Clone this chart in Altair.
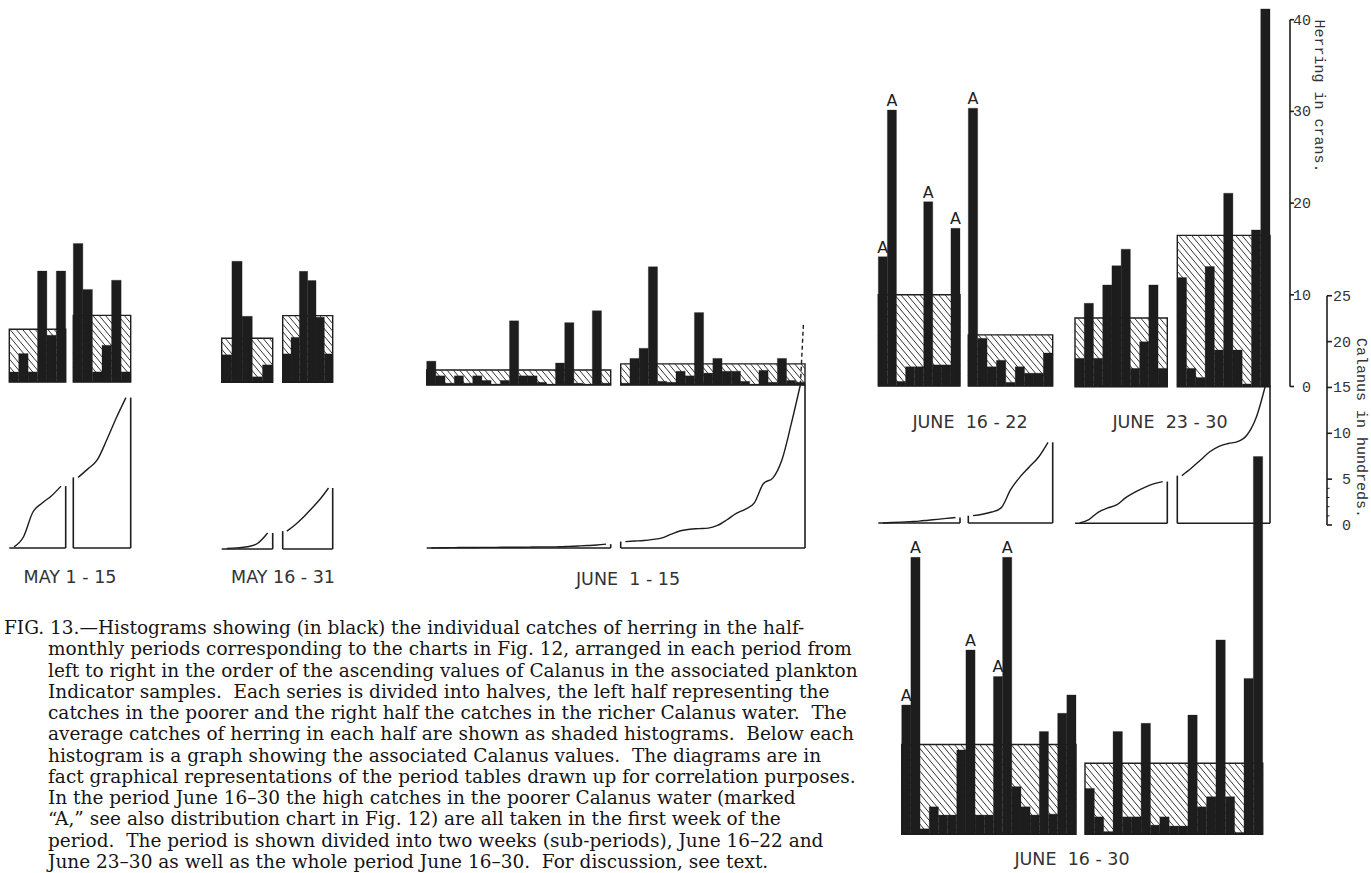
import altair as alt
import pandas as pd

W, H = 1371, 873
PX = 9.17  # pixels per cran of herring (and per hundred Calanus)

# ---------------- data ----------------
# herring catches (crans) in poorer / richer Calanus water, ordered by ascending Calanus
may1_poor = [1.1, 3.1, 1.1, 12.1, 5.1, 12.1]
may1_rich = [15.1, 10.1, 1.1, 4.0, 11.1, 1.1]
may1_avg = [5.75, 7.27]
may1_cal_poor = [0.12, 1.2, 3.9, 4.9, 5.7, 6.75]
may1_cal_rich = [7.7, 8.6, 9.6, 11.8, 14.2, 16.4]

may16_poor = [3.0, 13.2, 7.2, 0.6, 1.9]
may16_rich = [3.1, 4.9, 12.1, 11.1, 7.1, 3.1]
may16_avg = [4.8, 7.27]
may16_cal_poor = [0.06, 0.12, 0.24, 0.6, 1.75]
may16_cal_rich = [1.95, 2.65, 3.5, 4.45, 5.45, 6.65]

jun1_poor = [2.6, 1.0, 0.2, 1.0, 0.2, 1.0, 0.5, 0.1, 0.5, 7.0,
             1.0, 1.0, 0.3, 0.1, 2.4, 6.8, 0.2, 0.1, 8.1, 0.2]
jun1_rich = [0.2, 2.9, 4.0, 12.9, 0.4, 0.3, 1.5, 1.0, 7.9, 1.3,
             2.9, 1.5, 1.5, 0.4, 0.1, 1.6, 0.3, 2.9, 0.5, 0.3]
jun1_avg = [1.64, 2.3]
jun1_cal_poor = [0.0, 0.02, 0.04, 0.05, 0.06, 0.06, 0.07, 0.07, 0.08, 0.09,
                 0.09, 0.11, 0.12, 0.12, 0.14, 0.18, 0.22, 0.27, 0.33, 0.42]
jun1_cal_rich = [0.7, 0.76, 0.82, 0.94, 1.11, 1.52, 1.88, 2.05, 2.11, 2.17,
                 2.46, 3.05, 3.75, 4.22, 4.93, 7.04, 7.62, 9.62, 13.5, 17.8]

jun16_poor = [14.1, 30.1, 0.5, 2.1, 2.1, 20.1, 2.3, 2.3, 17.2]
jun16_rich = [30.3, 5.2, 2.1, 2.8, 0.4, 2.1, 1.4, 1.4, 3.6]
jun16_avg = [9.95, 5.57]
jun16_cal_poor = [0.0, 0.05, 0.1, 0.15, 0.2, 0.3, 0.4, 0.5, 0.6]
jun16_cal_rich = [0.8, 0.95, 1.2, 1.65, 3.6, 5.0, 6.1, 7.2, 8.8]

jun23_poor = [3.1, 9.1, 3.1, 11.1, 13.2, 15.0, 2.0, 4.9, 11.1, 2.0]
jun23_rich = [11.9, 2.0, 1.0, 13.1, 4.0, 21.1, 4.0, 0.3, 17.1, 41.2]
jun23_avg = [7.5, 16.5]
jun23_cal_poor = [0.05, 0.4, 1.2, 1.65, 2.0, 2.8, 3.4, 3.9, 4.3, 4.55]
jun23_cal_rich = [5.2, 6.0, 6.9, 7.8, 8.4, 8.7, 8.9, 9.6, 11.5, 15.0]

jun1630_poor = [14.1, 30.2, 0.6, 3.0, 2.1, 2.1, 9.2, 20.1, 2.1, 2.1,
                17.2, 30.2, 5.2, 3.0, 2.1, 11.2, 2.2, 13.2, 15.2]
jun1630_rich = [5.0, 1.9, 0.3, 11.2, 1.9, 1.9, 12.1, 1.0, 1.9, 0.9,
                0.9, 13.0, 3.0, 4.1, 21.2, 4.1, 0.2, 17.0, 41.2]
jun1630_avg = [9.8, 7.75]

# Calanus values continuing above the frame (dashed)
overflow = {"jun1": 24.6, "jun23": 18.3}
# catches marked "A" (half, index)
a_marks = {"jun16": [("poor", 0), ("poor", 1), ("poor", 5), ("poor", 8), ("rich", 0)],
           "jun1630": [("poor", 0), ("poor", 1), ("poor", 7), ("poor", 10), ("poor", 11)]}

NB = "\u00a0"
period_labels = {"may1": "MAY" + NB + "1" + NB + "-" + NB + "15",
                 "may16": "MAY" + NB + "16" + NB + "-" + NB + "31",
                 "jun1": "JUNE" + NB * 2 + "1" + NB + "-" + NB + "15",
                 "jun16": "JUNE" + NB * 2 + "16" + NB + "-" + NB + "22",
                 "jun23": "JUNE" + NB * 2 + "23" + NB + "-" + NB + "30",
                 "jun1630": "JUNE" + NB * 2 + "16" + NB + "-" + NB + "30"}

herring_ticks = [0, 10, 20, 30, 40]
calanus_ticks = [0, 5, 10, 15, 20, 25]
calanus_minor = [1, 2, 3, 4]

caption = [
    "FIG. 13.\u2014Histograms showing (in black) the individual catches of herring in the half-",
    "monthly periods corresponding to the charts in Fig. 12, arranged in each period from",
    "left to right in the order of the ascending values of Calanus in the associated plankton",
    "Indicator samples.  Each series is divided into halves, the left half representing the",
    "catches in the poorer and the right half the catches in the richer Calanus water.  The",
    "average catches of herring in each half are shown as shaded histograms.  Below each",
    "histogram is a graph showing the associated Calanus values.  The diagrams are in",
    "fact graphical representations of the period tables drawn up for correlation purposes.",
    "In the period June 16\u201330 the high catches in the poorer Calanus water (marked",
    "\u201cA,\u201d see also distribution chart in Fig. 12) are all taken in the first week of the",
    "period.  The period is shown divided into two weeks (sub-periods), June 16\u201322 and",
    "June 23\u201330 as well as the whole period June 16\u201330.  For discussion, see text.",
]
caption = [s.replace("  ", NB + " ") for s in caption]

# ---------------- layout (pixels) ----------------
layout = {
    "may1":   dict(poor_x=(9.3, 65.7), rich_x=(73.3, 130.7), base=382.0, cal_base=548.0, label=(70, 578)),
    "may16":  dict(poor_x=(221.7, 272.7), rich_x=(282.7, 332.7), base=382.3, cal_base=549.0, label=(283, 578)),
    "jun1":   dict(poor_x=(426.7, 610.7), rich_x=(620.7, 805.0), base=385.0, cal_base=548.0, label=(628, 580)),
    "jun16":  dict(poor_x=(878.3, 960.0), rich_x=(968.3, 1052.7), base=386.0, cal_base=523.0, label=(970, 423)),
    "jun23":  dict(poor_x=(1075.0, 1167.3), rich_x=(1177.3, 1270.0), base=386.7, cal_base=523.3, label=(1170, 423)),
    "jun1630": dict(poor_x=(901.7, 1076.0), rich_x=(1085.0, 1262.7), base=834.3, cal_base=None, label=(1072, 860)),
}
series = {
    "may1": (may1_poor, may1_rich, may1_avg, may1_cal_poor, may1_cal_rich),
    "may16": (may16_poor, may16_rich, may16_avg, may16_cal_poor, may16_cal_rich),
    "jun1": (jun1_poor, jun1_rich, jun1_avg, jun1_cal_poor, jun1_cal_rich),
    "jun16": (jun16_poor, jun16_rich, jun16_avg, jun16_cal_poor, jun16_cal_rich),
    "jun23": (jun23_poor, jun23_rich, jun23_avg, jun23_cal_poor, jun23_cal_rich),
    "jun1630": (jun1630_poor, jun1630_rich, jun1630_avg, None, None),
}
HERR_AXIS_X, HERR_BASE = 1290.0, 386.5
CAL_AXIS_X, CAL_BASE = 1327.0, 525.0


def u(ypx):
    return (H - ypx) / PX


bars, boxes, hatch, lines, rules, dashed, a_text, labels = [], [], [], [], [], [], [], []
M, STEP = 1.2, 6.3
for name, (poor, rich, avg, cpoor, crich) in series.items():
    L = layout[name]
    b = u(L["base"])
    labels.append(dict(x=L["label"][0], y=u(L["label"][1]), t=period_labels[name]))
    for half, vals, (x0, x1), av, cal in (("poor", poor, L["poor_x"], avg[0], cpoor),
                                          ("rich", rich, L["rich_x"], avg[1], crich)):
        n = len(vals)
        w = (x1 - x0) / n
        boxes.append(dict(x=x0, x2=x1, y=b + av, y2=b))
        ytop, ybot = L["base"] - av * PX, L["base"]
        k = ytop - M * x1
        k = (k // (M * STEP)) * M * STEP
        while k < ybot - M * x0:
            xa, xb = max(x0, (ytop - k) / M), min(x1, (ybot - k) / M)
            if xb > xa:
                hatch.append(dict(x=xa, x2=xb, y=u(M * xa + k), y2=u(M * xb + k)))
            k += M * STEP
        for i, v in enumerate(vals):
            bars.append(dict(x=x0 + i * w, x2=x0 + (i + 1) * w, y=b + v, y2=b))
        for (hh, idx) in a_marks.get(name, []):
            if hh == half:
                a_text.append(dict(x=x0 + (idx + 0.5) * w, y=b + vals[idx] + 1.0, t="A"))
        if cal is not None:
            cb = u(L["cal_base"])
            cw = (x1 - x0) / len(cal)
            for i, v in enumerate(cal):
                lines.append(dict(x=x0 + (i + 0.5) * cw, y=cb + v, g=name + half, o=i))
            rules.append(dict(x=x0, x2=x1, y=cb, y2=cb))
            rules.append(dict(x=x1, x2=x1, y=cb, y2=cb + cal[-1]))
            if half == "rich":
                rules.append(dict(x=x0, x2=x0, y=cb, y2=cb + cal[0]))
                if name in overflow:
                    dashed.append(dict(x=x0 + (len(cal) - 0.5) * cw, x2=x1 - 1.5,
                                       y=cb + cal[-1], y2=cb + overflow[name]))

# axes drawn as rules
hb, cbu = u(HERR_BASE), u(CAL_BASE)
rules.append(dict(x=HERR_AXIS_X, x2=HERR_AXIS_X, y=hb, y2=hb + 40))
for t in herring_ticks:
    rules.append(dict(x=HERR_AXIS_X, x2=HERR_AXIS_X + 4, y=hb + t, y2=hb + t))
rules.append(dict(x=CAL_AXIS_X, x2=CAL_AXIS_X, y=cbu, y2=cbu + 25))
for t in calanus_ticks:
    rules.append(dict(x=CAL_AXIS_X, x2=CAL_AXIS_X + 5, y=cbu + t, y2=cbu + t))
minor = [dict(x=CAL_AXIS_X, x2=CAL_AXIS_X + 2.5, y=cbu + t, y2=cbu + t) for t in calanus_minor]
axis_lab = [dict(x=1311, y=hb + t, t=str(t)) for t in herring_ticks] + \
           [dict(x=1351, y=cbu + t, t=str(t)) for t in calanus_ticks]
axis_titles = [dict(x=1320, y=u(96), t="Herring in crans."),
               dict(x=1362, y=u(428), t="Calanus in hundreds.")]
cap = [dict(x=4 if i == 0 else 48, y=u(628 + i * 21.27), t=s) for i, s in enumerate(caption)]

xs = alt.Scale(domain=[0, W], nice=False, zero=False)
ys = alt.Scale(domain=[0, H / PX], nice=False, zero=False)
X = lambda: alt.X("x:Q", scale=xs, axis=None)
Y = lambda: alt.Y("y:Q", scale=ys, axis=None)
INK = "#1d1d1d"


def rect_layer(rows, **kw):
    return alt.Chart(pd.DataFrame(rows)).mark_rect(**kw).encode(X(), alt.X2("x2:Q"), Y(), alt.Y2("y2:Q"))


def rule_layer(rows, **kw):
    return alt.Chart(pd.DataFrame(rows)).mark_rule(**kw).encode(X(), alt.X2("x2:Q"), Y(), alt.Y2("y2:Q"))


def text_layer(rows, **kw):
    return alt.Chart(pd.DataFrame(rows)).mark_text(**kw).encode(X(), Y(), text="t:N")


layers = [
    rect_layer(boxes, fill="white", stroke=INK, strokeWidth=1.4),
    rule_layer(hatch, color="#333333", strokeWidth=1.0),
    rect_layer(bars, fill=INK, stroke=INK, strokeWidth=0.3),
    alt.Chart(pd.DataFrame(lines)).mark_line(color=INK, strokeWidth=1.4, interpolate="monotone").encode(
        X(), Y(), detail="g:N", order="o:Q"),
    rule_layer(rules, color=INK, strokeWidth=1.6),
    rule_layer(minor, color=INK, strokeWidth=1.0),
    rule_layer(dashed, color=INK, strokeWidth=1.4, strokeDash=[4, 3]),
    text_layer(a_text, font="DejaVu Sans", fontSize=16, color=INK, align="center", baseline="middle"),
    text_layer(labels, font="DejaVu Sans", fontSize=17.5, color="#333333", align="center", baseline="middle"),
    text_layer(axis_lab, font="Liberation Mono", fontSize=15, color="#333333", align="right", baseline="middle"),
    text_layer(axis_titles, font="Liberation Mono", fontSize=15, color="#333333", align="center",
               baseline="middle", angle=90),
    text_layer(cap, font="DejaVu Serif", fontSize=18.5, color="#151515", align="left", baseline="middle"),
]

chart = alt.layer(*layers).properties(
    width=W, height=H, padding=0, autosize=alt.AutoSizeParams(type="none"), background="white"
).configure_view(stroke=None)

chart.save("out.html", embed_options={"renderer": "svg", "actions": False})
